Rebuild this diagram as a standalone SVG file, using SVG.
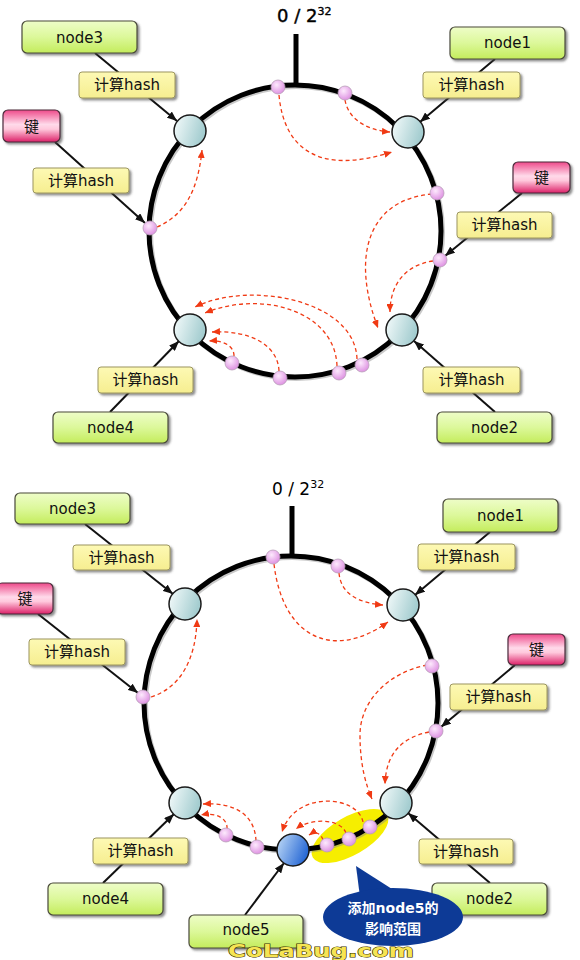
<svg xmlns="http://www.w3.org/2000/svg" width="580" height="960" viewBox="0 0 580 960">
<defs>
<linearGradient id="gGreen" x1="0" y1="0" x2="0" y2="1">
<stop offset="0" stop-color="#eefdc8"/><stop offset="0.5" stop-color="#dcf89a"/><stop offset="1" stop-color="#c4ec5c"/>
</linearGradient>
<linearGradient id="gPink" x1="0" y1="0" x2="0" y2="1">
<stop offset="0" stop-color="#ee4a8a"/><stop offset="0.45" stop-color="#ffdaea"/><stop offset="0.6" stop-color="#ffc8dc"/><stop offset="1" stop-color="#dc2068"/>
</linearGradient>
<linearGradient id="gYellow" x1="0" y1="0" x2="0" y2="1">
<stop offset="0" stop-color="#fdf9b4"/><stop offset="1" stop-color="#f6ee90"/>
</linearGradient>
<linearGradient id="gBig" x1="0" y1="0" x2="1" y2="0.3">
<stop offset="0" stop-color="#f6fcfc"/><stop offset="1" stop-color="#a4cdd0"/>
</linearGradient>
<radialGradient id="gSmall" cx="0.4" cy="0.35" r="0.7">
<stop offset="0" stop-color="#fdeafd"/><stop offset="1" stop-color="#dc8ce0"/>
</radialGradient>
<linearGradient id="gBlue" x1="0" y1="0" x2="1" y2="0.4">
<stop offset="0" stop-color="#c4def8"/><stop offset="1" stop-color="#2c6cd6"/>
</linearGradient>
<filter id="sh" x="-10%" y="-20%" width="130%" height="150%">
<feDropShadow dx="2" dy="2" stdDeviation="1" flood-color="#444" flood-opacity="0.6"/>
</filter>
<marker id="ab" markerUnits="userSpaceOnUse" markerWidth="10" markerHeight="8" viewBox="0 0 10 8" refX="10" refY="4" orient="auto">
<path d="M0,0 L10,4 L0,8 z" fill="#111"/>
</marker>
<marker id="ar" markerUnits="userSpaceOnUse" markerWidth="8" markerHeight="7" viewBox="0 0 8 7" refX="8" refY="3.5" orient="auto">
<path d="M0,0 L8,3.5 L0,7 z" fill="#f03a14"/>
</marker>
<style>
.ring{fill:none;stroke:#000;stroke-width:5}
.ringsh{fill:none;stroke:#888;stroke-width:5;opacity:0.45}
.stick{stroke:#000;stroke-width:5}
.big{fill:url(#gBig);stroke:#1a1a1a;stroke-width:1.5}
.sm{fill:url(#gSmall);stroke:#b8a0b8;stroke-width:0.8}
.blue{fill:url(#gBlue);stroke:#1a1a1a;stroke-width:1.5}
.gbox{fill:url(#gGreen);stroke:#4a4a3a;stroke-width:1.2;filter:url(#sh)}
.pbox{fill:url(#gPink);stroke:#4a2a3a;stroke-width:1.2;filter:url(#sh)}
.ybox{fill:url(#gYellow);stroke:#9c9660;stroke-width:1;filter:url(#sh)}
.t{font-family:"DejaVu Sans","Noto Sans CJK SC",sans-serif;font-size:15px;fill:#111;text-anchor:middle}
.lab{font-family:"DejaVu Sans",sans-serif;fill:#000}
.con{stroke:#111;stroke-width:2;fill:none;marker-end:url(#ab)}
.da{stroke:#f03a14;stroke-width:1.3;fill:none;stroke-dasharray:4 3;marker-end:url(#ar)}
.call{font-family:"DejaVu Sans","Noto Sans CJK SC",sans-serif;font-size:14px;font-weight:bold;fill:#fff;text-anchor:middle}
</style>
</defs>
<rect width="580" height="960" fill="#fff"/>

<!-- ===== TOP DIAGRAM ===== -->
<g id="ring1">
<circle class="ringsh" cx="296.5" cy="232.5" r="146"/>
<circle class="ring" cx="295" cy="231" r="146"/>
<line class="stick" x1="296" y1="34" x2="296" y2="86"/>
<text class="lab" x="277" y="22" font-size="18" stroke="#000" stroke-width="0.4">0 / 2<tspan font-size="11" dy="-7">32</tspan></text>
</g>

<g id="connectors1">
<line class="con" x1="95" y1="53" x2="177" y2="121"/>
<line class="con" x1="55" y1="142" x2="145" y2="223"/>
<line class="con" x1="495" y1="59" x2="420" y2="122"/>
<line class="con" x1="522" y1="193" x2="445" y2="256"/>
<line class="con" x1="110" y1="412" x2="179" y2="341"/>
<line class="con" x1="495" y1="412" x2="414" y2="341"/>
<path class="da" d="M279,95 C284,150 320,175 392,152"/>
<path class="da" d="M345,100 C348,118 365,130 390,132"/>
<path class="da" d="M157,227 C185,215 198,190 202,150"/>
<path class="da" d="M432,194 C365,200 352,260 378,328"/>
<path class="da" d="M433,261 C405,265 390,285 390,312"/>
<path class="da" d="M357,359 C355,300 250,280 195,307"/>
<path class="da" d="M337,366 C335,310 260,290 205,313"/>
<path class="da" d="M279,371 C278,345 250,330 212,332"/>
<path class="da" d="M234,356 C234,345 222,340 209,341"/>
</g>

<g id="ring1-nodes">
<circle class="big" cx="190" cy="131" r="16"/>
<circle class="big" cx="408" cy="132" r="16"/>
<circle class="big" cx="190" cy="330" r="16"/>
<circle class="big" cx="402" cy="330" r="16"/>
<circle class="sm" cx="278" cy="87" r="7"/>
<circle class="sm" cx="345" cy="93" r="7"/>
<circle class="sm" cx="437" cy="193" r="7"/>
<circle class="sm" cx="440" cy="260" r="7"/>
<circle class="sm" cx="150" cy="228" r="7"/>
<circle class="sm" cx="232" cy="363" r="7"/>
<circle class="sm" cx="280" cy="378" r="7"/>
<circle class="sm" cx="339" cy="373" r="7"/>
<circle class="sm" cx="362" cy="365" r="7"/>
</g>

<g id="t-node3"><rect class="gbox" x="22" y="21" width="115" height="32" rx="5"/><text class="t" x="79.5" y="43">node3</text></g>
<g id="t-hash3"><rect class="ybox" x="79" y="72" width="96" height="26" rx="3"/><text class="t" x="127" y="90">计算hash</text></g>
<g id="t-keyL"><rect class="pbox" x="3" y="110" width="57" height="32" rx="5"/><text class="t" x="31.5" y="132">键</text></g>
<g id="t-hashKL"><rect class="ybox" x="33" y="168" width="96" height="25" rx="3"/><text class="t" x="81" y="186">计算hash</text></g>
<g id="t-node1"><rect class="gbox" x="450" y="27" width="115" height="32" rx="5"/><text class="t" x="507.5" y="48">node1</text></g>
<g id="t-hash1"><rect class="ybox" x="423" y="72" width="97" height="26" rx="3"/><text class="t" x="471.5" y="90">计算hash</text></g>
<g id="t-keyR"><rect class="pbox" x="513" y="162" width="57" height="31" rx="5"/><text class="t" x="541.5" y="183">键</text></g>
<g id="t-hashKR"><rect class="ybox" x="457" y="212" width="95" height="26" rx="3"/><text class="t" x="504.5" y="230">计算hash</text></g>
<g id="t-hash4"><rect class="ybox" x="98" y="367" width="95" height="26" rx="3"/><text class="t" x="145.5" y="385">计算hash</text></g>
<g id="t-node4"><rect class="gbox" x="53" y="412" width="115" height="31" rx="5"/><text class="t" x="110.5" y="433">node4</text></g>
<g id="t-hash2"><rect class="ybox" x="423" y="367" width="97" height="26" rx="3"/><text class="t" x="471.5" y="385">计算hash</text></g>
<g id="t-node2"><rect class="gbox" x="437" y="412" width="115" height="31" rx="5"/><text class="t" x="494.5" y="433">node2</text></g>

<!-- ===== BOTTOM DIAGRAM ===== -->
<g id="highlight">
<ellipse cx="350" cy="836" rx="43" ry="19" transform="rotate(-30 350 836)" fill="#f6ee00"/>
</g>
<g id="ring2">
<circle class="ringsh" cx="292.5" cy="704.5" r="147"/>
<circle class="ring" cx="291" cy="703" r="147"/>
<line class="stick" x1="292" y1="506" x2="292" y2="558"/>
<text class="lab" x="272" y="495" font-size="17">0 / 2<tspan font-size="11" dy="-7">32</tspan></text>
</g>

<g id="connectors2">
<line class="con" x1="85" y1="524" x2="173" y2="594"/>
<line class="con" x1="38" y1="614" x2="138" y2="693"/>
<line class="con" x1="490" y1="532" x2="415" y2="595"/>
<line class="con" x1="515" y1="665" x2="441" y2="727"/>
<line class="con" x1="103" y1="883" x2="174" y2="814"/>
<line class="con" x1="245" y1="915" x2="284" y2="863"/>
<line class="con" x1="490" y1="883" x2="408" y2="813"/>
<path class="da" d="M274,564 C283,640 335,660 388,622"/>
<path class="da" d="M339,573 C341,595 360,603 383,605"/>
<path class="da" d="M151,697 C180,688 196,660 197,619"/>
<path class="da" d="M427,665 C390,672 360,700 360,735 C360,765 366,785 372,799"/>
<path class="da" d="M429,732 C400,738 386,755 385,784"/>
<path class="da" d="M227,829 C228,818 215,812 201,815"/>
<path class="da" d="M256,841 C255,815 235,802 203,804"/>
<path class="da" d="M363,822 C358,795 295,790 282,832"/>
<path class="da" d="M346,833 C340,818 310,818 296,829"/>
<path class="da" d="M323,840 C321,833 315,831 309,835"/>
</g>

<g id="ring2-nodes">
<circle class="big" cx="185" cy="604" r="16"/>
<circle class="big" cx="403" cy="605" r="16"/>
<circle class="big" cx="185" cy="803" r="16"/>
<circle class="big" cx="396" cy="803" r="16"/>
<circle class="blue" cx="293" cy="850" r="16"/>
<circle class="sm" cx="273" cy="557" r="7"/>
<circle class="sm" cx="338" cy="566" r="7"/>
<circle class="sm" cx="432" cy="666" r="7"/>
<circle class="sm" cx="436" cy="731" r="7"/>
<circle class="sm" cx="143" cy="697" r="7"/>
<circle class="sm" cx="226" cy="835" r="7"/>
<circle class="sm" cx="257" cy="847" r="7"/>
<circle class="sm" cx="327" cy="845" r="7"/>
<circle class="sm" cx="349" cy="839" r="7"/>
<circle class="sm" cx="370" cy="827" r="7"/>
</g>

<g id="b-node3"><rect class="gbox" x="15" y="493" width="115" height="31" rx="5"/><text class="t" x="72.5" y="514">node3</text></g>
<g id="b-hash3"><rect class="ybox" x="73" y="545" width="97" height="25" rx="3"/><text class="t" x="121.5" y="563">计算hash</text></g>
<g id="b-keyL"><rect class="pbox" x="-3" y="583" width="56" height="31" rx="5"/><text class="t" x="25" y="604">键</text></g>
<g id="b-hashKL"><rect class="ybox" x="29" y="639" width="96" height="26" rx="3"/><text class="t" x="77" y="657">计算hash</text></g>
<g id="b-node1"><rect class="gbox" x="443" y="499" width="115" height="33" rx="5"/><text class="t" x="500.5" y="521">node1</text></g>
<g id="b-hash1"><rect class="ybox" x="418" y="544" width="97" height="26" rx="3"/><text class="t" x="466.5" y="562">计算hash</text></g>
<g id="b-keyR"><rect class="pbox" x="508" y="634" width="57" height="31" rx="5"/><text class="t" x="536.5" y="655">键</text></g>
<g id="b-hashKR"><rect class="ybox" x="450" y="684" width="97" height="26" rx="3"/><text class="t" x="498.5" y="702">计算hash</text></g>
<g id="b-hash4"><rect class="ybox" x="93" y="838" width="95" height="26" rx="3"/><text class="t" x="140.5" y="856">计算hash</text></g>
<g id="b-node4"><rect class="gbox" x="48" y="883" width="115" height="32" rx="5"/><text class="t" x="105.5" y="904">node4</text></g>
<g id="b-hash2"><rect class="ybox" x="419" y="839" width="94" height="25" rx="3"/><text class="t" x="466" y="857">计算hash</text></g>
<g id="b-node2"><rect class="gbox" x="432" y="883" width="115" height="32" rx="5"/><text class="t" x="489.5" y="904">node2</text></g>
<g id="b-node5"><rect class="gbox" x="189" y="915" width="114" height="33" rx="5"/><text class="t" x="246" y="935">node5</text></g>

<g id="callout">
<path d="M356,866 L392,889 L360,897 z" fill="#0d3a96"/>
<ellipse cx="393" cy="917" rx="70" ry="29" fill="#0d3a96"/>
<text class="call" x="393" y="913">添加node5的</text>
<text class="call" x="393" y="934">影响范围</text>
</g>

<g id="watermark">
<text x="321" y="957" text-anchor="middle" font-family="DejaVu Sans, sans-serif" font-weight="bold" font-size="17" textLength="186" lengthAdjust="spacingAndGlyphs" fill="#f6e454" stroke="#3a3000" stroke-width="1.1" paint-order="stroke">CoLaBug.com</text>
</g>
</svg>
